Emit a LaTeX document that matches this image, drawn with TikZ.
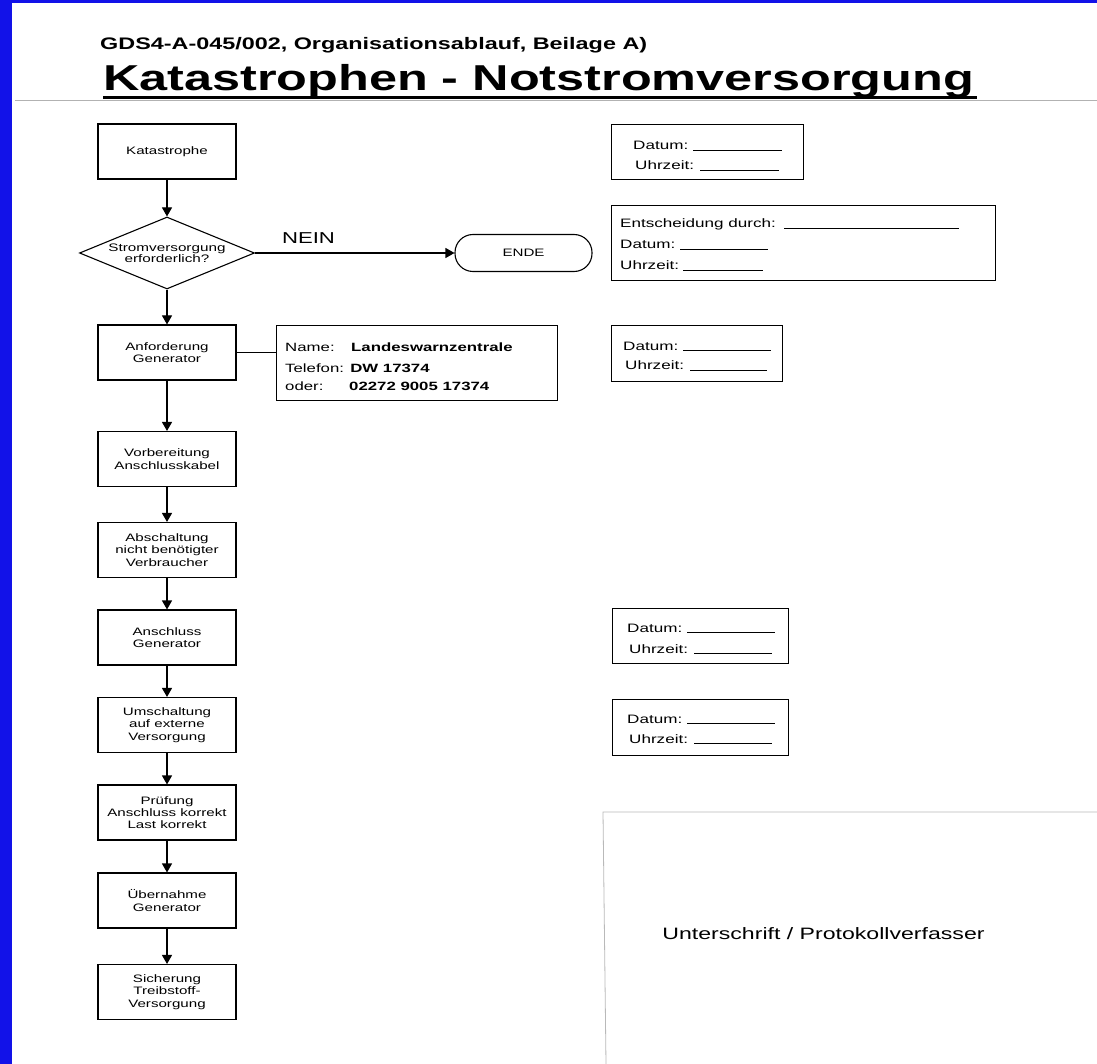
\documentclass[tikz,border=0pt]{standalone}
\usepackage{fontspec}
\setmainfont{Liberation Sans}[FakeStretch=1.4]
\usetikzlibrary{arrows.meta,shapes.geometric}
\definecolor{frameblue}{RGB}{18,18,232}
\begin{document}
\begin{tikzpicture}[x=1pt,y=-1pt,
  flowbox/.style={draw, line width=1.1pt, minimum width=138pt, minimum height=55pt, inner sep=0pt, align=center, font=\fontsize{10.8}{12.3}\selectfont},
  formbox/.style={draw, line width=1.1pt, inner sep=0pt, anchor=north west},
  formtext/.style={anchor=base west, inner sep=0pt, font=\fontsize{12.2}{14}\selectfont},
  infotext/.style={anchor=base west, inner sep=0pt, font=\fontsize{12}{14}\selectfont},
  blank/.style={line width=0.9pt},
  flow/.style={line width=1.1pt, -{Triangle[length=9pt,width=10pt]}},
  plain/.style={line width=1.1pt},
]
\useasboundingbox (0,0) rectangle (1097,1064);
\fill[white] (0,0) rectangle (1097,1064);
\fill[frameblue] (0,0) rectangle (12,1064);
\fill[frameblue] (0,0) rectangle (1097,3);

% header
\node[anchor=base west, inner sep=0pt, font=\fontsize{16.7}{18}\selectfont\bfseries] (hdr) at (100,50) {GDS4-A-045/002, Organisationsablauf, Beilage A)};
\node[anchor=base west, inner sep=0pt, font=\fontsize{36}{40}\selectfont\bfseries] (title) at (103,91) {Katastrophen - Notstromversorgung};
\coordinate (ulA) at (103,97.5);
\coordinate (ulB) at (977,97.5);
\draw[line width=3pt] (ulA) -- (ulB);
\coordinate (pgA) at (15,100.5);
\coordinate (pgB) at (1097,100.5);
\draw[gray!60, line width=0.7pt] (pgA) -- (pgB);

% flow column
\node[flowbox] (kat) at (167,151.5) {Katastrophe};
\node[draw, line width=1.1pt, shape=diamond, aspect=2.43, minimum width=175pt, minimum height=72pt, inner sep=0pt, align=center, font=\fontsize{10.9}{11.5}\selectfont] (dia) at (167,253) {Stromversorgung\\erforderlich?};
\node[draw, line width=1.1pt, rounded corners=18pt, minimum width=137pt, minimum height=37pt, inner sep=0pt, font=\fontsize{10.8}{12}\selectfont] (ende) at (523.5,253) {ENDE};
\node[inner sep=0pt, font=\fontsize{15.8}{17}\selectfont] (nein) at (308.5,238) {NEIN};
\node[flowbox] (anf) at (167,352.5) {Anforderung\\Generator};
\node[flowbox] (vor) at (167,459) {Vorbereitung\\Anschlusskabel};
\node[flowbox] (abs) at (167,550) {Abschaltung\\nicht benötigter\\Verbraucher};
\node[flowbox] (ansg) at (167,637.5) {Anschluss\\Generator};
\node[flowbox] (ums) at (167,725) {Umschaltung\\auf externe\\Versorgung};
\node[flowbox] (pru) at (167,812.5) {Prüfung\\Anschluss korrekt\\Last korrekt};
\node[flowbox] (ueb) at (167,900.5) {Übernahme\\Generator};
\node[flowbox] (sich) at (167,992) {Sicherung\\Treibstoff-\\Versorgung};

\draw[flow] (kat.south) -- (dia.north);
\draw[flow] (dia.east) -- (ende.west);
\draw[flow] (dia.south) -- (anf.north);
\draw[flow] (anf.south) -- (vor.north);
\draw[flow] (vor.south) -- (abs.north);
\draw[flow] (abs.south) -- (ansg.north);
\draw[flow] (ansg.south) -- (ums.north);
\draw[flow] (ums.south) -- (pru.north);
\draw[flow] (pru.south) -- (ueb.north);
\draw[flow] (ueb.south) -- (sich.north);

% info box
\node[formbox, minimum width=281pt, minimum height=75pt] (info) at (276,325) {};
\draw[plain] (anf.east) -- (info.west |- anf.east);
\node[infotext] (nm) at (285,352) {Name:};
\node[infotext, font=\fontsize{12}{14}\selectfont\bfseries] (nmv) at (351,352) {Landeswarnzentrale};
\node[infotext] (tel) at (285,372) {Telefon: \textbf{DW 17374}};
\node[infotext] (od) at (285,390) {oder:};
\node[infotext, font=\fontsize{12}{14}\selectfont\bfseries] (odv) at (349,390) {02272 9005 17374};

% form box A
\node[formbox, minimum width=192pt, minimum height=55pt] (fa) at (611,124) {};
\node[formtext] (faD) at (633,150) {Datum:};
\node[formtext] (faU) at (635,170) {Uhrzeit:};
\coordinate (faD1) at (693,150); \coordinate (faD2) at (782,150);
\coordinate (faU1) at (700,170); \coordinate (faU2) at (779,170);
\draw[blank] (faD1) -- (faD2); \draw[blank] (faU1) -- (faU2);

% form box B
\node[formbox, minimum width=384pt, minimum height=75pt] (fb) at (611,205) {};
\node[formtext] (fbE) at (620,228) {Entscheidung durch:};
\node[formtext] (fbD) at (620,249) {Datum:};
\node[formtext] (fbU) at (620,270) {Uhrzeit:};
\coordinate (fbE1) at (784,228); \coordinate (fbE2) at (959,228);
\coordinate (fbD1) at (680,249); \coordinate (fbD2) at (768,249);
\coordinate (fbU1) at (683,270); \coordinate (fbU2) at (763,270);
\draw[blank] (fbE1) -- (fbE2); \draw[blank] (fbD1) -- (fbD2); \draw[blank] (fbU1) -- (fbU2);

% form box C
\node[formbox, minimum width=171pt, minimum height=56pt] (fc) at (611,325) {};
\node[formtext] (fcD) at (623,350) {Datum:};
\node[formtext] (fcU) at (625,370) {Uhrzeit:};
\coordinate (fcD1) at (683,350); \coordinate (fcD2) at (771,350);
\coordinate (fcU1) at (690,370); \coordinate (fcU2) at (767,370);
\draw[blank] (fcD1) -- (fcD2); \draw[blank] (fcU1) -- (fcU2);

% form box D
\node[formbox, minimum width=176pt, minimum height=55pt] (fd) at (612,608) {};
\node[formtext] (fdD) at (627,632) {Datum:};
\node[formtext] (fdU) at (629,653) {Uhrzeit:};
\coordinate (fdD1) at (687,632); \coordinate (fdD2) at (775,632);
\coordinate (fdU1) at (694,653); \coordinate (fdU2) at (772,653);
\draw[blank] (fdD1) -- (fdD2); \draw[blank] (fdU1) -- (fdU2);

% form box E
\node[formbox, minimum width=176pt, minimum height=56pt] (fe) at (612,699) {};
\node[formtext] (feD) at (627,723) {Datum:};
\node[formtext] (feU) at (629,743) {Uhrzeit:};
\coordinate (feD1) at (687,723); \coordinate (feD2) at (775,723);
\coordinate (feU1) at (694,743); \coordinate (feU2) at (772,743);
\draw[blank] (feD1) -- (feD2); \draw[blank] (feU1) -- (feU2);

% signature area
\coordinate (sgTL) at (603,812);
\coordinate (sgTR) at (1097,812);
\coordinate (sgBL) at (606,1064);
\draw[gray!55, line width=0.8pt] (sgTR) -- (sgTL) -- (sgBL);
\node[inner sep=0pt, font=\fontsize{16.5}{18}\selectfont] (sig) at (823.5,934) {Unterschrift / Protokollverfasser};
\end{tikzpicture}
\end{document}
